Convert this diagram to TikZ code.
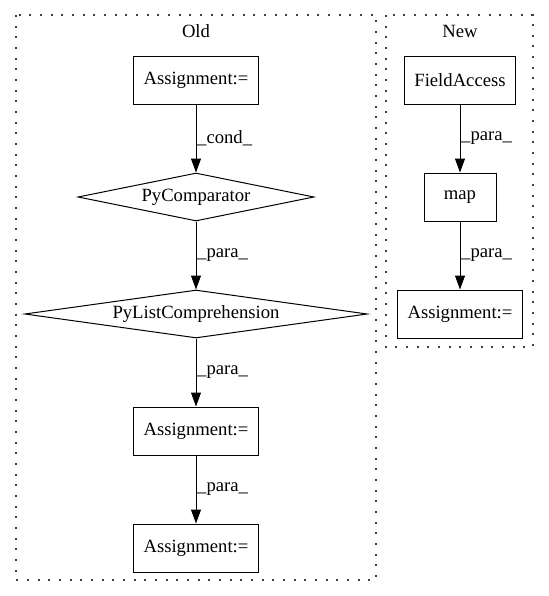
\documentclass[tikz,border=0pt]{standalone}
\usepackage{fontspec}
\setmainfont{Liberation Serif}
\usepackage{tikz}
\usetikzlibrary{positioning, arrows.meta, shapes.geometric}
\newcommand{\Lbl}{\fontsize{14pt}{16pt}\selectfont}
\tikzset{
    stmt/.style={draw, rectangle, line width=0.75pt, minimum width=54pt,
      minimum height=36pt, inner xsep=7.5pt, font=\Lbl},
    cmp/.style={draw, diamond, aspect=7, inner sep=0pt, line width=0.75pt,
      minimum height=36pt, font=\Lbl},
    flow/.style={->, line width=0.75pt},
    elab/.style={auto, inner sep=0.5pt, font=\Lbl},
    cluster/.style={draw=black!75, line width=0.9pt, dash pattern=on 1.5pt off 6.5pt},
}

\begin{document}
\begin{tikzpicture}[x=0.75pt, y=-0.75pt, >={Triangle[length=10.5pt, width=7.5pt]}]
    \tikzset{node distance=51pt}
    \useasboundingbox (0,0) rectangle (549,596);

    % clusters
    \draw[cluster] (16,15) rectangle (376,580);
    \node[font=\Lbl] (old) at (196,31) {Old};
    \draw[cluster] (386,15) rectangle (533,347);
    \node[font=\Lbl] (new) at (460,31) {New};

    % old
    \node[stmt] (a1) at (196,80) {Assignment:=};
    \node[cmp, minimum width=177pt, below=of a1] (pc) {PyComparator};
    \node[cmp, minimum width=257pt, below=of pc] (plc) {PyListComprehension};
    \node[stmt, below=of plc] (a2) {Assignment:=};
    \node[stmt, below=of a2] (a3) {Assignment:=};

    \draw (a1) edge[flow] node[elab]{\_cond\_} (pc);
    \draw (pc) edge[flow] node[elab]{\_para\_} (plc);
    \draw (plc) edge[flow] node[elab]{\_para\_} (a2);
    \draw (a2) edge[flow] node[elab]{\_para\_} (a3);

    % new
    \node[stmt] (fa) at (460,80) {FieldAccess};
    \node[stmt, below=of fa] (map) {map};
    \node[stmt, below=of map] (a4) {Assignment:=};

    \draw (fa) edge[flow] node[elab]{\_para\_} (map);
    \draw (map) edge[flow] node[elab]{\_para\_} (a4);
\end{tikzpicture}
\end{document}
